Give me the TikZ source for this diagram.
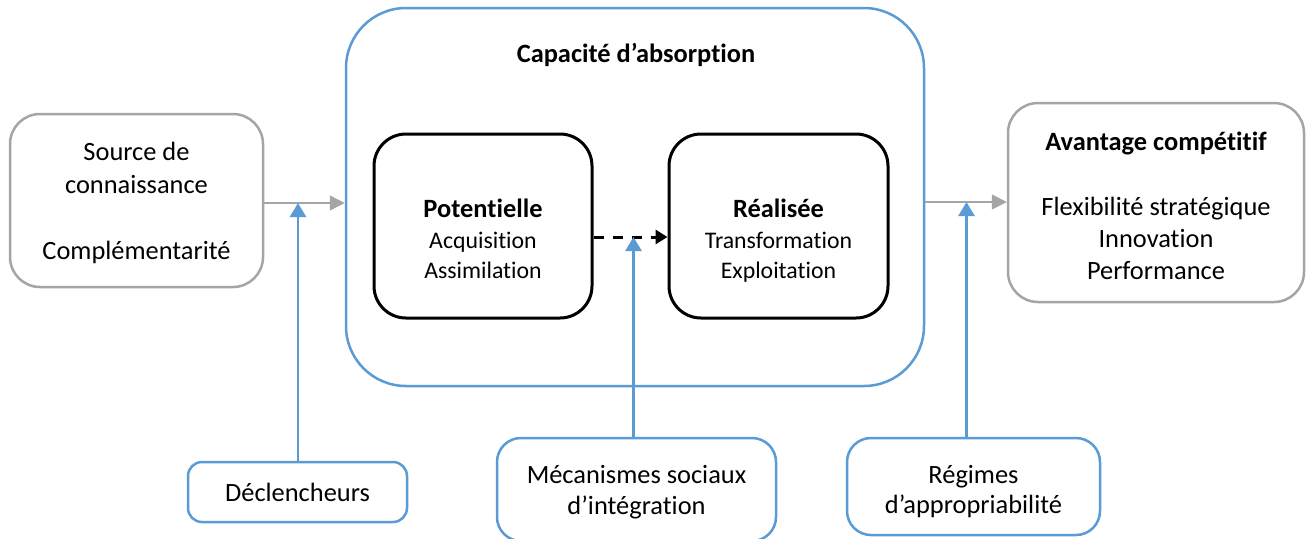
\documentclass[tikz,border=0pt]{standalone}
\usepackage{fontspec}
\setmainfont{Carlito}[RawFeature={-liga;-clig;-calt;-dlig}]
\usetikzlibrary{arrows.meta}
\definecolor{boxblue}{HTML}{5B9BD5}
\definecolor{boxgray}{HTML}{A5A5A5}

\begin{document}
\begin{tikzpicture}[x=0.5pt,y=-0.5pt,
  box/.style={draw, rectangle, inner sep=0pt, fill=white},
  graybox/.style={box, draw=boxgray, line width=1.25pt, rounded corners=15pt},
  bluebig/.style={box, draw=boxblue, line width=1.25pt, rounded corners=30pt},
  bluesmall/.style={box, draw=boxblue, line width=1.25pt, rounded corners=8pt},
  blackbox/.style={box, draw=black, line width=1.5pt, rounded corners=16pt},
  lbl/.style={anchor=base, inner sep=0pt, font=\fontsize{13.2pt}{16pt}\selectfont},
  lblb/.style={lbl, font=\fontsize{13.2pt}{16pt}\selectfont\bfseries},
  ilbl/.style={anchor=base, inner sep=0pt, font=\fontsize{11.9pt}{15pt}\selectfont},
  grayarrow/.style={draw=boxgray, line width=0.75pt, -{Triangle[length=7.5pt,width=7.5pt]}, fill=boxgray},
  bluearrow/.style={draw=boxblue, line width=1.3pt, -{Triangle[length=7pt,width=8pt]}, fill=boxblue},
  dasharrow/.style={draw=black, line width=1.5pt, dash pattern=on 5pt off 4.5pt, -{Triangle[length=6pt,width=7pt]}},
]
\useasboundingbox (0,0) rectangle (1314,538);

% main boxes
\node[graybox, minimum width=126.5pt, minimum height=86.5pt] (src) at (136.5,200.5) {};
\node[bluebig, minimum width=289pt, minimum height=189pt] (cap) at (635,197) {};
\node[blackbox, minimum width=109pt, minimum height=92pt] (pot) at (483,226) {};
\node[blackbox, minimum width=109.5pt, minimum height=92pt] (rea) at (778.5,226) {};
\node[graybox, minimum width=148pt, minimum height=99.5pt] (adv) at (1156,202.5) {};

% moderating factors
\node[bluesmall, minimum width=109.5pt, minimum height=30pt, rounded corners=7pt] (dec) at (297.5,492) {};
\node[bluesmall, minimum width=139.5pt, minimum height=51.5pt, rounded corners=12pt] (mec) at (636.5,489.5) {};
\node[bluesmall, minimum width=126.5pt, minimum height=48.5pt, rounded corners=12pt] (reg) at (973.5,486.5) {};

% labels
\node[lbl] (t-src1) at (136.5,160.5) {Source de};
\node[lbl] (t-src2) at (136.5,193.5) {connaissance};
\node[lbl] (t-src3) at (136.5,259.5) {Complémentarité};

\node[lblb] (t-cap) at (636,62) {Capacité d’absorption};

\node[lblb] (t-pot1) at (483,217) {Potentielle};
\node[ilbl] (t-pot2) at (483,248.5) {Acquisition};
\node[ilbl] (t-pot3) at (483,278.5) {Assimilation};

\node[lblb] (t-rea1) at (778.5,217) {Réalisée};
\node[ilbl] (t-rea2) at (778.5,248.5) {Transformation};
\node[ilbl] (t-rea3) at (778.5,278.5) {Exploitation};

\node[lblb] (t-adv1) at (1156,150) {Avantage compétitif};
\node[lbl] (t-adv2) at (1156,215) {Flexibilité stratégique};
\node[lbl] (t-adv3) at (1156,247) {Innovation};
\node[lbl] (t-adv4) at (1156,279) {Performance};

\node[lbl] (t-dec) at (297.5,501.5) {Déclencheurs};
\node[lbl] (t-mec1) at (636.5,483) {Mécanismes sociaux};
\node[lbl] (t-mec2) at (636.5,514) {d’intégration};
\node[lbl] (t-reg1) at (973.5,483) {Régimes};
\node[lbl] (t-reg2) at (973.5,513.5) {d’appropriabilité};

% connector heights
\coordinate (yin) at (0,203);
\coordinate (yout) at (0,202);
\coordinate (ydash) at (0,237);

% main flow
\draw[grayarrow] (src.east |- yin) -- (cap.west |- yin);
\draw[grayarrow] (cap.east |- yout) -- (adv.west |- yout);
\draw[dasharrow] (pot.east |- ydash) -- (rea.west |- ydash);

% moderating influences
\coordinate (dec-top) at ([xshift=0.25pt]dec.north);
\coordinate (mec-top) at ([xshift=-1.5pt]mec.north);
\coordinate (reg-top) at ([xshift=-3.5pt]reg.north);
\draw[bluearrow] (dec-top) -- (dec-top |- yin);
\draw[bluearrow] (mec-top) -- (mec-top |- ydash);
\draw[bluearrow] (reg-top) -- (reg-top |- yout);
\end{tikzpicture}
\end{document}
